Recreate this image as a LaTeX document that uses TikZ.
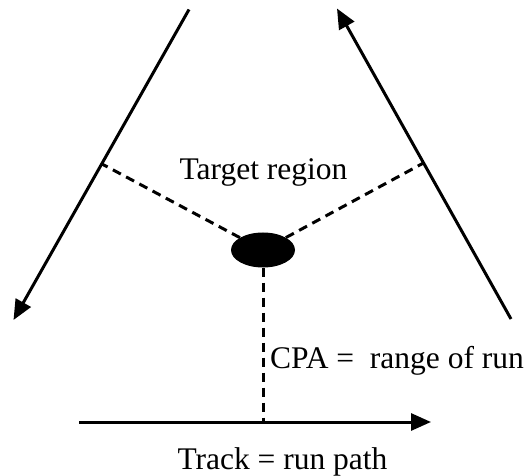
\documentclass[tikz,border=0pt]{standalone}
\usepackage{fontspec}
\setmainfont{Liberation Serif}
\usetikzlibrary{arrows.meta,shapes.geometric}
\begin{document}
\begin{tikzpicture}[x=1pt,y=1pt,
  track/.style={line width=3pt,-{Triangle[length=20pt,width=17pt]}},
  perp/.style={line width=3pt,dash pattern=on 9pt off 6pt},
  lbl/.style={font=\fontsize{31.5}{36}\selectfont,inner sep=0pt}]
\useasboundingbox (0,0) rectangle (531,475);
% left run
\coordinate (Ltop) at (189,465.5);
\coordinate (Lend) at (13.5,155);
\coordinate (Lj) at (102,311);
% right run
\coordinate (Rbot) at (511,156);
\coordinate (Rend) at (337,466.5);
\coordinate (Rj) at (423.5,312);
% bottom run
\coordinate (Bstart) at (79,53);
\coordinate (Bend) at (431,53);
\coordinate (Bj) at (263,53);
\draw[track] (Ltop) -- (Lend);
\draw[track] (Rbot) -- (Rend);
\draw[track] (Bstart) -- (Bend);
\node[ellipse,fill=black,minimum width=64pt,minimum height=35pt,inner sep=0pt] (target) at (263,225) {};
\draw[perp] (target) -- (Lj);
\draw[perp] (target) -- (Rj);
\draw[perp] (target.south) -- (Bj);
\node[lbl] (tr) at (263.5,303) {Target region};
\node[lbl,anchor=west] (cpa) at (270,114) {CPA =\ \ range of run};
\node[lbl] (trk) at (282.5,13) {Track = run path};
\end{tikzpicture}
\end{document}
